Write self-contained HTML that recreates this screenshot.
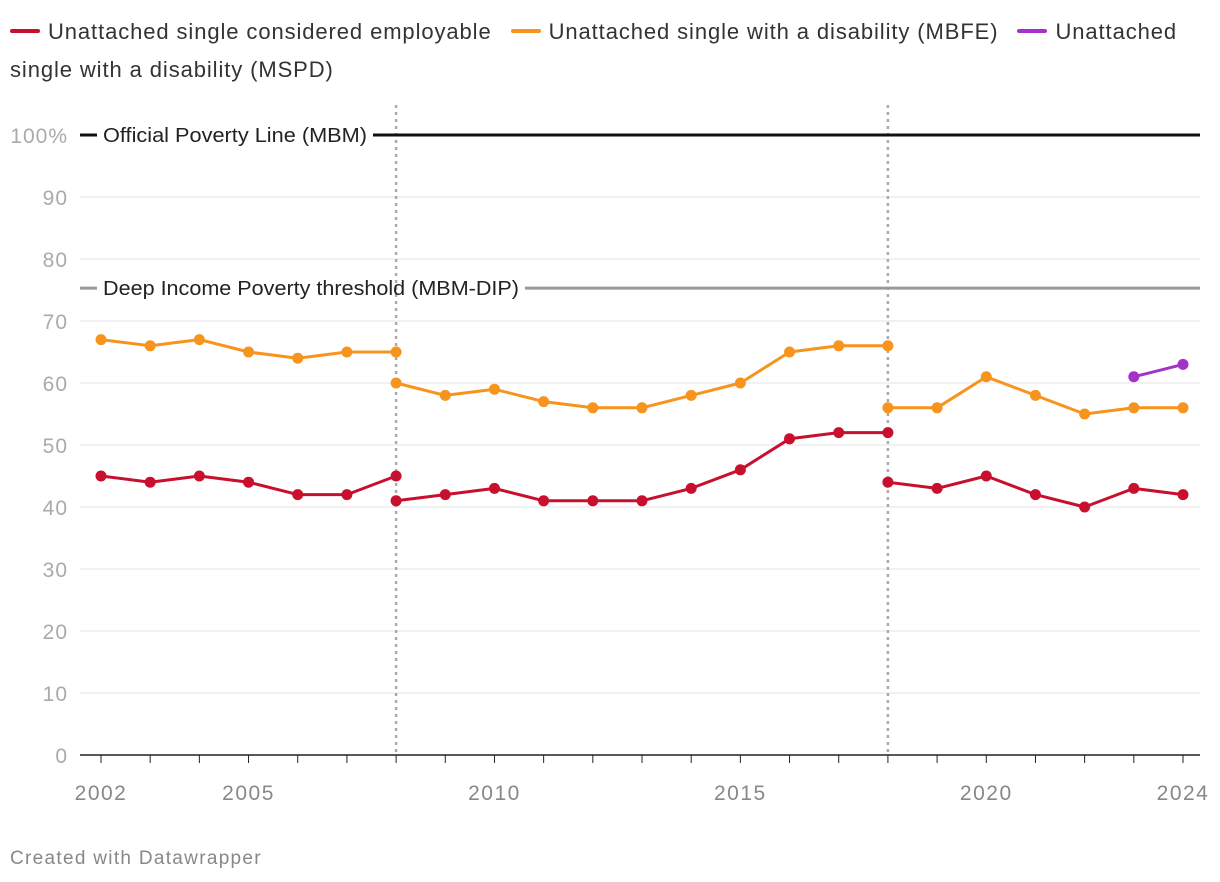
<!DOCTYPE html>
<html><head><meta charset="utf-8"><style>
body{margin:0;background:#fff;font-family:"Liberation Sans",sans-serif;}
#wrap{position:relative;width:1220px;height:882px;overflow:hidden}
.legend{position:absolute;left:10px;top:13px;width:1200px;font-size:22px;letter-spacing:0.9px;line-height:38px;color:#333}
.li{display:inline;margin-right:12px}
.sw{display:inline-block;width:30px;height:4px;border-radius:2px;vertical-align:middle;margin-right:8px;position:relative;top:-2px}
.foot{position:absolute;left:10px;top:848px;font-size:19px;letter-spacing:1.3px;color:#888}
</style></head><body>
<div id="wrap">
<div class="legend">
<span class="li"><span class="sw" style="background:#c8102e"></span>Unattached single considered employable</span>
<span class="li"><span class="sw" style="background:#f7941d"></span>Unattached single with a disability (MBFE)</span>
<span class="li"><span class="sw" style="background:#a431c9"></span>Unattached single with a disability (MSPD)</span>
</div>
<svg id="svg" width="1220" height="882" style="position:absolute;left:0;top:0"></svg>
<div class="foot">Created with Datawrapper</div>
</div>
<script>
const years=[2002,2003,2004,2005,2006,2007,2008,2008,2009,2010,2011,2012,2013,2014,2015,2016,2017,2018,2018,2019,2020,2021,2022,2023,2024];
const segBreaks=[7,18];
const employable=[45,44,45,44,42,42,45,41,42,43,41,41,41,43,46,51,52,52,44,43,45,42,40,43,42];
const mbfe=[67,66,67,65,64,65,65,60,58,59,57,56,56,58,60,65,66,66,56,56,61,58,55,56,56];
const mspdYears=[2023,2024];
const mspd=[61,63];
const yTicks=[0,10,20,30,40,50,60,70,80,90,100];
const xTickLabels=[2002,2005,2010,2015,2020,2024];
const refLines=[{v:100,label:"Official Poverty Line (MBM)",c:"#111",w:264},{v:75.3,label:"Deep Income Poverty threshold (MBM-DIP)",c:"#999",w:416}];
const breakYears=[2008,2018];
const NS="http://www.w3.org/2000/svg",svg=document.getElementById('svg');
const x=y=>101+(y-2002)*(1183-101)/22, Y=v=>755-v*6.2;
function el(t,a,p){const e=document.createElementNS(NS,t);for(const k in a)e.setAttribute(k,a[k]);(p||svg).appendChild(e);return e;}
yTicks.forEach(t=>{
 if(t>0&&t<100){const g=el('line',{x1:80,x2:1200,y1:Y(t),y2:Y(t),stroke:'#e3e3e3','stroke-width':1});}
 const tx=el('text',{x:68,y:Y(t)+8,'text-anchor':'end','font-size':21,'letter-spacing':1,fill:'#aaa'});tx.textContent=t===100?'100%':t;
 
});
const base=el('line',{x1:80,x2:1200,y1:755,y2:755,stroke:'#222','stroke-width':1.5});

for(let yr=2002;yr<=2024;yr++){const t=el('line',{x1:x(yr),x2:x(yr),y1:755,y2:763,stroke:'#222'});}
xTickLabels.forEach(l=>{const t=el('text',{x:x(l),y:800,'text-anchor':'middle','font-size':21,'letter-spacing':1.5,fill:'#888'});t.textContent=l;});
breakYears.forEach(b=>{const l=el('line',{x1:x(b),x2:x(b),y1:105,y2:755,stroke:'#aaa','stroke-width':2.5,'stroke-dasharray':'3,4'});});
refLines.forEach(r=>{
 const l1=el('line',{x1:80,x2:97,y1:Y(r.v),y2:Y(r.v),stroke:r.c,'stroke-width':3});
 const l2=el('line',{x1:103+r.w+6,x2:1200,y1:Y(r.v),y2:Y(r.v),stroke:r.c,'stroke-width':3});
 const t=el('text',{x:103,y:Y(r.v)+7,'font-size':20,fill:'#222',textLength:r.w,lengthAdjust:'spacingAndGlyphs'});t.textContent=r.label;
 
});
function series(xs,vals,color,name,breaks){
 const idx=[0,...breaks,xs.length];
 for(let s=0;s<idx.length-1;s++){
  const pts=[];for(let i=idx[s];i<idx[s+1];i++)pts.push(x(xs[i])+','+Y(vals[i]));
  const p=el('polyline',{points:pts.join(' '),fill:'none',stroke:color,'stroke-width':3,'stroke-linejoin':'round'});
  
 }
 xs.forEach((yr,i)=>{const c=el('circle',{cx:x(yr),cy:Y(vals[i]),r:5.5,fill:color});});
}
series(years,mbfe,'#f7941d','mbfe',segBreaks);
series(years,employable,'#c8102e','employable',segBreaks);
series(mspdYears,mspd,'#a431c9','mspd',[]);
</script>
</body></html>
